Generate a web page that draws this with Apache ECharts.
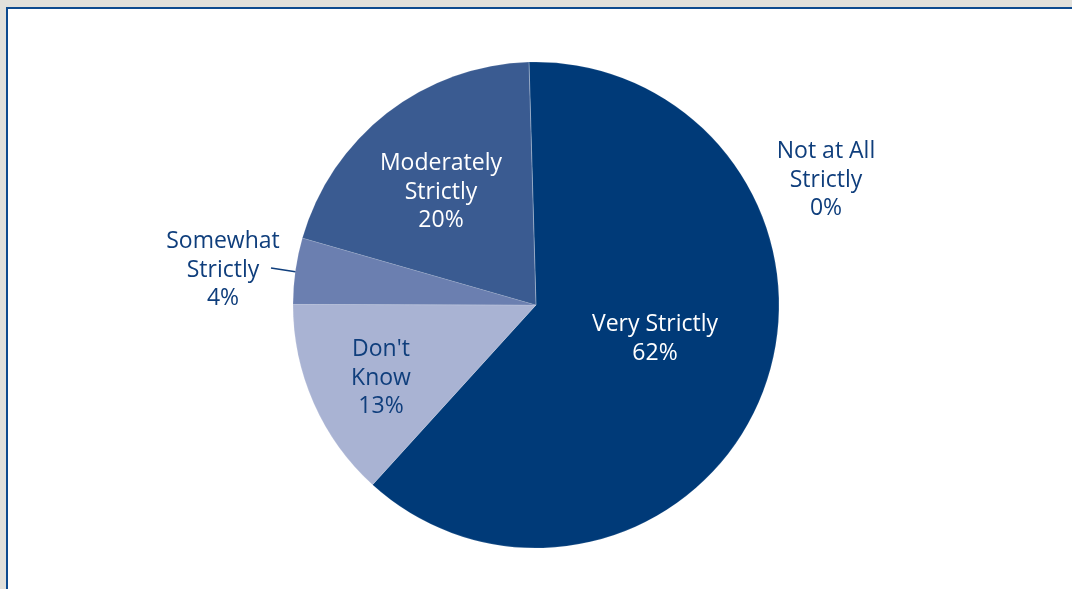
<!DOCTYPE html>
<html>
<head>
<meta charset="utf-8">
<script src="https://cdn.jsdelivr.net/npm/echarts@6/dist/echarts.min.js"></script>
<style>
  html, body { margin: 0; padding: 0; width: 1072px; height: 589px; overflow: hidden; background: #e1e0db; }
  .frame {
    position: absolute; left: 6px; top: 7px; width: 1100px; height: 620px;
    background: #fff;
    border-left: 2px solid #0d4a8f;
    border-top: 2px solid #0d4a8f;
  }
  .chart { position: absolute; left: 0; top: 0; width: 1072px; height: 589px; }
</style>
</head>
<body>
<div class="frame"></div>
<div id="chart" class="chart"></div>
<script>
  // slice order clockwise from the top
  const categories = ['Very Strictly', "Don't Know", 'Somewhat Strictly', 'Moderately Strictly', 'Not at All Strictly'];
  const shares = [62.2, 13.3, 4.4, 20.1, 0];
  const labelText = ['Very Strictly\n62%', "Don't\nKnow\n13%", 'Somewhat\nStrictly\n4%', 'Moderately\nStrictly\n20%', 'Not at All\nStrictly\n0%'];

  const colors = ['#003a78', '#a9b3d3', '#6b7fb0', '#3a5b91', '#003a78'];
  const textColors = ['#fff', '#0f3e7c', '#0f3e7c', '#fff', '#0f3e7c'];
  // where each label sits (centre of text block)
  const labelPos = [[655, 339], [381, 378], [223, 270], [441, 192], [826, 180]];

  const mychart = echarts.init(document.getElementById('chart'));
  mychart.setOption({
    animation: false,
    series: [{
      type: 'pie',
      center: [536, 305],
      radius: 243,
      startAngle: 91.65,
      clockwise: true,
      avoidLabelOverlap: false,
      minShowLabelAngle: 0,
      stillShowZeroSum: true,
      itemStyle: { borderColor: 'rgba(255,255,255,0.2)', borderWidth: 0.6 },
      label: {
        show: true,
        position: 'inside',
        fontFamily: 'Open Sans',
        fontSize: 23,
        lineHeight: 28.5,
        align: 'center',
        verticalAlign: 'middle'
      },
      labelLine: { show: false },
      labelLayout: function (params) {
        const p = labelPos[params.dataIndex];
        const out = { x: p[0], y: p[1], align: 'center', verticalAlign: 'middle' };
        if (params.dataIndex === 2) {
          out.labelLinePoints = [[297, 272], [284, 270], [271, 268]];
        }
        return out;
      },
      data: categories.map((name, i) => ({
        name: name,
        value: shares[i],
        itemStyle: { color: colors[i] },
        label: {
          formatter: labelText[i],
          color: textColors[i],
          position: (i === 2 || i === 4) ? 'outside' : 'inside'
        },
        labelLine: { show: i === 2, lineStyle: { color: '#0f3e7c', width: 1.5 }, length: 10, length2: 12 }
      }))
    }]
  });
</script>
</body>
</html>
